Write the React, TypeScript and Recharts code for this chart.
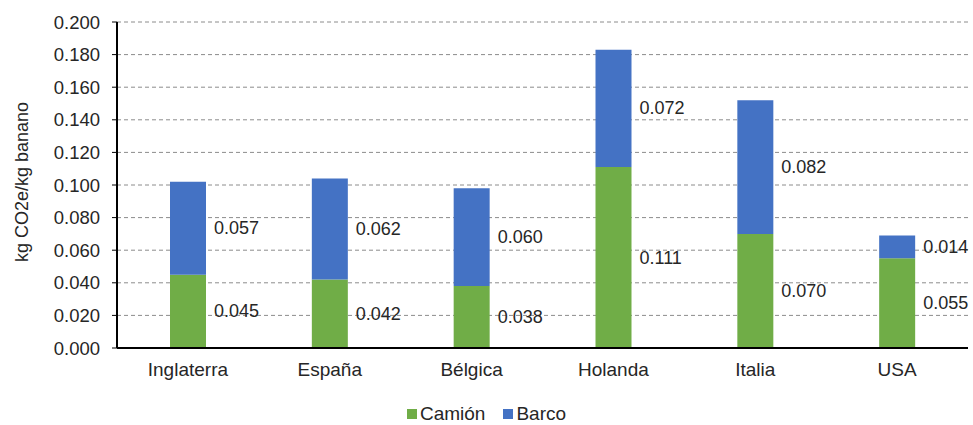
import { BarChart, Bar, XAxis, YAxis, CartesianGrid, Legend, LabelList } from "recharts";

const paises = ["Inglaterra", "España", "Bélgica", "Holanda", "Italia", "USA"];
const camion = [0.045, 0.042, 0.038, 0.111, 0.07, 0.055];
const barco = [0.057, 0.062, 0.06, 0.072, 0.082, 0.014];
const yTicks = [0, 0.02, 0.04, 0.06, 0.08, 0.1, 0.12, 0.14, 0.16, 0.18, 0.2];
const series = [
  { key: "camion", name: "Camión", color: "#70AD47" },
  { key: "barco", name: "Barco", color: "#4472C4" },
];

const data = paises.map((p, i) => ({ pais: p, camion: camion[i], barco: barco[i] }));

const FONT = "'Liberation Sans', Arial, sans-serif";
const TXT = "#262626";

// label to the right of each segment, centred vertically
const SideLabel = (props: any) => {
  const { x, y, width, height, value } = props;
  return (
    <text
      x={x + width + 8}
      y={y + height / 2}
      fill={TXT}
      fontSize={18}
      fontFamily={FONT}
      textAnchor="start"
      dominantBaseline="central"
    >
      {Number(value).toFixed(3)}
    </text>
  );
};

const LegendBox = () => (
  <div style={{ display: "flex", justifyContent: "center", gap: 18, fontFamily: FONT, fontSize: 19, color: TXT }}>
    {series.map((s) => (
      <span key={s.key} style={{ display: "flex", alignItems: "center" }}>
        <span style={{ width: 10, height: 10, background: s.color, marginRight: 3, display: "inline-block" }} />
        {s.name}
      </span>
    ))}
  </div>
);

export default function App() {
  return (
    <div style={{ position: "absolute", left: 0, top: 0, background: "#fff" }}>
      <BarChart
        width={973}
        height={425}
        data={data}
        margin={{ top: 22, right: 5, left: 0, bottom: 0 }}
        style={{ fontFamily: FONT }}
      >
        <CartesianGrid vertical={false} stroke="#8c8c8c" strokeDasharray="4 3" />
        <XAxis
          dataKey="pais"
          height={77}
          tickLine={false}
          axisLine={{ stroke: "#000", strokeWidth: 2 }}
          tick={{ fill: TXT, fontSize: 19 }}
          tickMargin={9}
        />
        <YAxis
          width={117}
          domain={[0, 0.2]}
          ticks={yTicks}
          tickFormatter={(v: number) => v.toFixed(3)}
          axisLine={{ stroke: "#000", strokeWidth: 2 }}
          tickLine={{ stroke: "#000" }}
          tickSize={5}
          tickMargin={12}
          tick={{ fill: TXT, fontSize: 18.5 }}
          label={() => (
            <text
              x={22}
              y={182}
              transform="rotate(-90 22 182)"
              textAnchor="middle"
              dominantBaseline="central"
              fill={TXT}
              fontSize={18}
              fontFamily={FONT}
            >
              kg CO2e/kg banano
            </text>
          )}
        />
        <Legend
          verticalAlign="middle"
          align="center"
          content={LegendBox}
          wrapperStyle={{ top: 403, left: 0, width: 973 }}
        />
        {series.map((s) => (
          <Bar
            key={s.key}
            dataKey={s.key}
            name={s.name}
            stackId="a"
            fill={s.color}
            barSize={36}
            isAnimationActive={false}
          >
            <LabelList dataKey={s.key} content={SideLabel} />
          </Bar>
        ))}
      </BarChart>
    </div>
  );
}
